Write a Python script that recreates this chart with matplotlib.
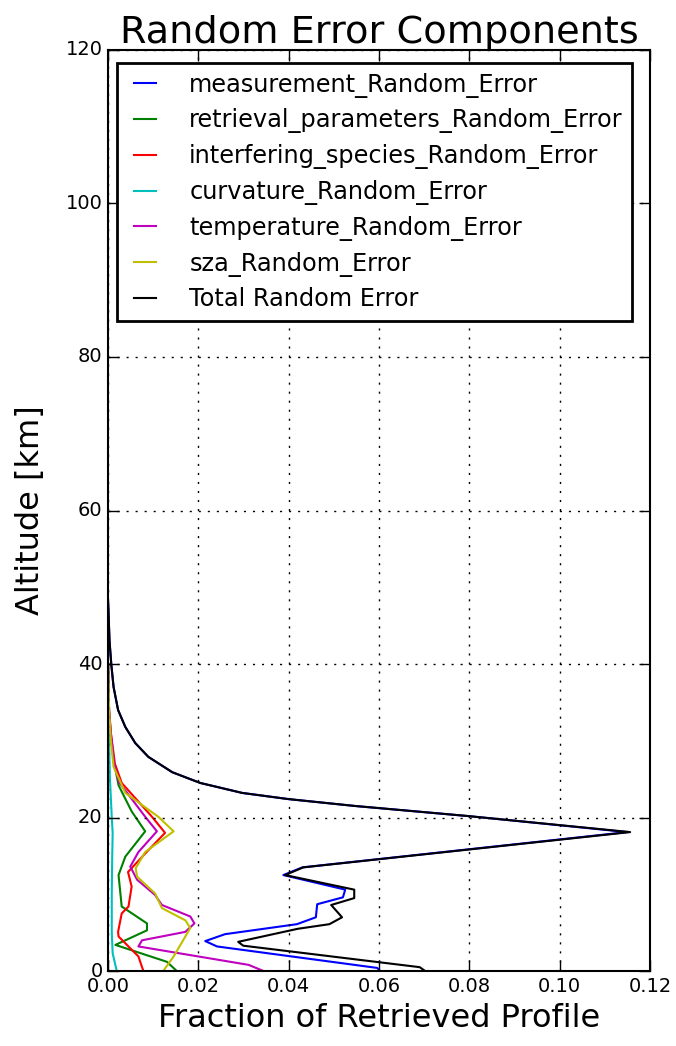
import numpy as np
import matplotlib
matplotlib.use('Agg')
import matplotlib.pyplot as plt

plt.style.use('classic')

# altitude [km] and fraction values
meas_alt = [0.0, 0.4, 3.2, 3.9, 4.8, 6.1, 7.0, 8.7, 9.6, 10.6, 12.5, 13.5, 18.1, 20.2, 21.5, 22.4, 23.2,
            24.5, 25.9, 27.9, 29.7, 31.8, 34.0, 37.0, 39.9, 43.0, 48.0]
meas_val = [0.0602, 0.0596, 0.0241, 0.0215, 0.0259, 0.0418, 0.0460, 0.0463, 0.0520, 0.0525, 0.0388, 0.0430,
            0.1150, 0.0795, 0.0547, 0.0399, 0.0297, 0.0204, 0.0142, 0.0089, 0.0060, 0.0038, 0.0022, 0.0012,
            0.0007, 0.0003, 0.0]

retr_alt = [0.0, 1.2, 3.4, 5.3, 6.2, 8.4, 12.5, 14.9, 18.2, 20.8, 24.2, 27.5, 31.0, 34.0, 40.0]
retr_val = [0.0152, 0.0130, 0.0016, 0.0086, 0.0086, 0.0030, 0.0023, 0.0038, 0.0082, 0.0052, 0.0023, 0.0012,
            0.0005, 0.0002, 0.0]

intf_alt = [0.0, 1.9, 4.5, 5.1, 7.5, 8.4, 11.0, 12.9, 15.3, 18.0, 20.1, 24.5, 27.0, 31.0, 34.0, 40.0]
intf_val = [0.0078, 0.0067, 0.0023, 0.0022, 0.0030, 0.0045, 0.0052, 0.0044, 0.0082, 0.0126, 0.0097, 0.0030,
            0.0015, 0.0006, 0.0002, 0.0]

curv_alt = [0.0, 2.3, 5.0, 10.0, 15.0, 18.0, 20.0, 25.0, 30.0, 40.0]
curv_val = [0.0019, 0.0010, 0.0008, 0.0008, 0.0009, 0.0010, 0.0008, 0.0004, 0.0002, 0.0]

temp_alt = [0.0, 0.8, 3.2, 4.0, 5.1, 6.2, 7.1, 8.6, 9.9, 11.9, 13.6, 15.5, 18.2, 20.1, 24.6, 27.0, 31.0,
            34.0, 40.0]
temp_val = [0.0344, 0.0311, 0.0067, 0.0075, 0.0171, 0.0191, 0.0182, 0.0119, 0.0104, 0.0064, 0.0049, 0.0067,
            0.0108, 0.0082, 0.0024, 0.0013, 0.0006, 0.0002, 0.0]

sza_alt = [0.0, 1.9, 5.6, 6.6, 8.2, 10.1, 12.3, 13.4, 15.5, 18.2, 20.1, 23.2, 26.6, 30.0, 34.0, 40.0]
sza_val = [0.0122, 0.0145, 0.0182, 0.0171, 0.0119, 0.0104, 0.0064, 0.0061, 0.0082, 0.0145, 0.0111, 0.0038,
           0.0012, 0.0006, 0.0002, 0.0]

total_alt = [0.0, 0.5, 3.3, 3.8, 5.5, 6.1, 7.0, 8.6, 9.5, 10.6, 12.5, 13.5, 18.1, 20.2, 21.5, 22.4, 23.2,
             24.5, 25.9, 27.9, 29.7, 31.8, 34.0, 37.0, 39.9, 43.0, 48.0]
total_val = [0.0702, 0.0690, 0.0299, 0.0288, 0.0420, 0.0490, 0.0518, 0.0494, 0.0545, 0.0545, 0.0392, 0.0432,
             0.1156, 0.0795, 0.0547, 0.0399, 0.0297, 0.0204, 0.0142, 0.0089, 0.0060, 0.0038, 0.0022, 0.0012,
             0.0007, 0.0003, 0.0]

fig = plt.figure(figsize=(6.76, 10.46), dpi=100, facecolor='white')
ax = fig.add_axes([0.16, 0.0717, 0.8015, 0.8805])

lw = 1.5
ax.plot(meas_val, meas_alt, 'b', lw=lw, label='measurement_Random_Error')
ax.plot(retr_val, retr_alt, 'g', lw=lw, label='retrieval_parameters_Random_Error')
ax.plot(intf_val, intf_alt, 'r', lw=lw, label='interfering_species_Random_Error')
ax.plot(curv_val, curv_alt, 'c', lw=lw, label='curvature_Random_Error')
ax.plot(temp_val, temp_alt, 'm', lw=lw, label='temperature_Random_Error')
ax.plot(sza_val, sza_alt, 'y', lw=lw, label='sza_Random_Error')
ax.plot(total_val, total_alt, 'k', lw=lw, label='Total Random Error')

ax.set_xlim(0, 0.12)
ax.set_ylim(0, 120)
ax.grid(True, color='k', linestyle=(0, (1.5, 5)), linewidth=1.0)
ax.tick_params(labelsize=14, length=8, width=1)
for s in ax.spines.values():
    s.set_linewidth(1.5)
ax.set_title('Random Error Components', fontsize=27.5)
ax.set_xlabel('Fraction of Retrieved Profile', fontsize=23)
ax.set_ylabel('Altitude [km]', fontsize=23, labelpad=14)
leg = ax.legend(loc='upper left', bbox_to_anchor=(0.0166, 0.9859), borderaxespad=0, borderpad=0.4,
                fontsize=17.3, handlelength=1.5, handletextpad=1.1, labelspacing=0.45)
leg.get_frame().set_linewidth(2)

fig.savefig('out.png', dpi=100, facecolor='white')
